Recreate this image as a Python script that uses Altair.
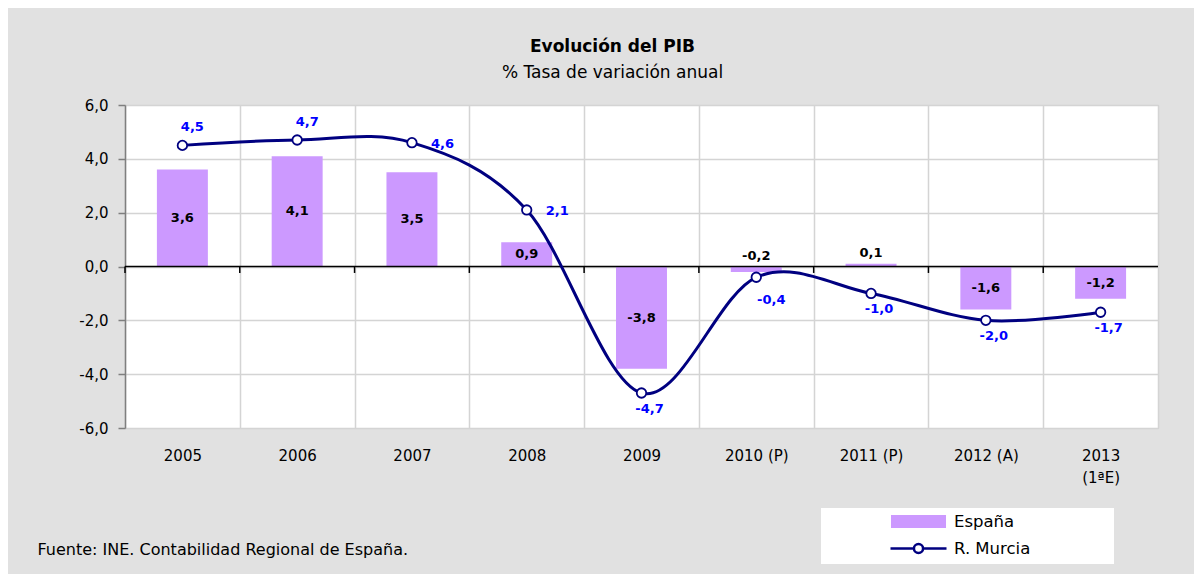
import altair as alt
import pandas as pd

# ---- data ----
categories = ["2005", "2006", "2007", "2008", "2009", "2010 (P)", "2011 (P)", "2012  (A)", "2013\n(1ªE)"]
espana = [3.6, 4.1, 3.5, 0.9, -3.8, -0.2, 0.1, -1.6, -1.2]
murcia = [4.5, 4.7, 4.6, 2.1, -4.7, -0.4, -1.0, -2.0, -1.7]
series_names = ["España", "R. Murcia"]
y_ticks = [-6, -4, -2, 0, 2, 4, 6]
zero_line = [0]

title_text = "Evolución del PIB"
subtitle_text = "% Tasa de variación anual"
source_text = "Fuente: INE. Contabilidad Regional de España."

# label placement groups for the R. Murcia values
murcia_above = ["2005", "2006"]
murcia_right = ["2007", "2008"]
murcia_below_right = ["2010 (P)"]
murcia_below = ["2009", "2011 (P)", "2012  (A)", "2013\n(1ªE)"]

df = pd.DataFrame({"cat": categories, "espana": espana, "murcia": murcia})

FONT = "DejaVu Sans"
LILAC = "#cc99ff"
NAVY = "#000080"
BLUE = "#0000ff"
GRID = "#d4d4d4"


def comma(field):
    return f"(datum.{field} < 0 ? '-' : '') + replace(format(abs(datum.{field}), '.1f'), '.', ',')"


y_scale = alt.Scale(domain=[-6, 6], nice=False, zero=False)
x_scale = alt.Scale(paddingInner=0, paddingOuter=0)

x_axis = alt.Axis(
    title=source_text, titleX=-88, titleY=121, titleAlign="left", titleAnchor="start",
    titleBaseline="middle", titleFont=FONT, titleFontSize=16, titleFontWeight="normal",
    titleColor="black",
    labelAngle=0, labelFont=FONT, labelFontSize=15, labelColor="black", labelPadding=20,
    labelLineHeight=22, labelExpr="split(datum.label, '\\n')",
    ticks=False, domain=False, grid=True, gridColor=GRID, gridWidth=1.5, tickBand="extent",
)
y_axis = alt.Axis(
    values=y_ticks, labelExpr=comma("value"), title=None,
    grid=True, gridColor=GRID, gridWidth=1.5,
    domainColor="#7f7f7f", domainWidth=1.5, tickColor="#7f7f7f", tickSize=7, tickWidth=1.5,
    labelFont=FONT, labelFontSize=15, labelColor="black", labelPadding=10,
)

# legend symbols (unit coordinates, scaled by the symbol size); the trailing move-to
# widens the white legend box to the right like the reference
rect_path = "M-3.93,-0.93H3.93V0.93H-3.93ZM26.5,0"
line_path = "M-4,0H-0.65M0.65,0H4M-0.65,0A0.65,0.65,0,1,0,0.65,0A0.65,0.65,0,1,0,-0.65,0ZM26.5,0"

legend = alt.Legend(
    title=None, orient="none", legendX=696, legendY=403, fillColor="white", padding=5,
    labelFont=FONT, labelFontSize=16.5, labelColor="black", rowPadding=4, labelLimit=400,
    symbolSize=196, symbolOffset=84, labelOffset=27, symbolStrokeWidth=2.5, symbolOpacity=1,
    symbolType=alt.ExprRef(expr=f"datum.value === 'España' ? '{rect_path}' : '{line_path}'"),
)

base = alt.Chart(df)
xenc = alt.X("cat:N", sort=categories, scale=x_scale)

bars = base.transform_calculate(series="'España'").mark_bar(
    width=alt.RelativeBandSize(0.444)
).encode(
    x=alt.X("cat:N", sort=categories, scale=x_scale, axis=x_axis, title=source_text),
    y=alt.Y("espana:Q", scale=y_scale, axis=y_axis),
    fill=alt.Fill("series:N", scale=alt.Scale(domain=series_names, range=[LILAC, "#ffffff"]), legend=legend),
    stroke=alt.Stroke("series:N", scale=alt.Scale(domain=series_names, range=["transparent", NAVY]), legend=legend),
)

zero = alt.Chart(pd.DataFrame({"z": zero_line})).mark_rule(color="black", strokeWidth=1.5).encode(
    y=alt.Y("z:Q", scale=y_scale)
)

zero_ticks = base.mark_rule(color="black", strokeWidth=1.5).encode(
    x=alt.X("cat:N", sort=categories, scale=x_scale, bandPosition=0),
    y=alt.datum(0),
    y2=alt.datum(-0.24),
)

line = base.mark_line(color=NAVY, strokeWidth=3, interpolate="cardinal", tension=0).encode(
    x=xenc, y=alt.Y("murcia:Q", scale=y_scale)
)
points = base.mark_point(shape="circle", filled=True, fill="white", stroke=NAVY, strokeWidth=1.8,
                         size=90, opacity=1).encode(x=xenc, y=alt.Y("murcia:Q", scale=y_scale))

esp_lab = base.transform_calculate(lab=comma("espana"), mid="datum.espana / 2",
                                   top="max(datum.espana, 0)")
esp_big = esp_lab.transform_filter("abs(datum.espana) >= 0.5").mark_text(
    font=FONT, fontSize=13, fontWeight="bold", color="black"
).encode(x=xenc, y=alt.Y("mid:Q", scale=y_scale), text="lab:N")
esp_small = esp_lab.transform_filter("abs(datum.espana) < 0.5").mark_text(
    font=FONT, fontSize=13, fontWeight="bold", color="black", baseline="bottom", dy=-4
).encode(x=xenc, y=alt.Y("top:Q", scale=y_scale), text="lab:N")

mur_lab = base.transform_calculate(lab=comma("murcia"))


def mlabels(cats, **kw):
    return mur_lab.transform_filter(alt.FieldOneOfPredicate(field="cat", oneOf=cats)).mark_text(
        font=FONT, fontSize=13, fontWeight="bold", color=BLUE, **kw
    ).encode(x=xenc, y=alt.Y("murcia:Q", scale=y_scale), text="lab:N")


m_above = mlabels(murcia_above, dx=10, dy=-18)
m_right = mlabels(murcia_right, align="left", dx=19, dy=1)
m_below_r = mlabels(murcia_below_right, dx=15, dy=23)
m_below = mlabels(murcia_below, dx=8, dy=16)

chart = alt.layer(
    bars, zero, zero_ticks, line, points, esp_big, esp_small, m_above, m_right, m_below_r, m_below
).properties(
    width=1033, height=323,
    autosize=alt.AutoSizeParams(type="none"),
    padding={"left": 117, "top": 97, "right": 36, "bottom": 146},
    background="#e1e1e1",
    title=alt.Title(
        text=title_text, subtitle=subtitle_text, font=FONT, fontSize=17, fontWeight="bold",
        color="black", subtitleFont=FONT, subtitleFontSize=17, subtitleColor="black",
        subtitlePadding=9, anchor="middle", dx=-29, offset=16,
    ),
).configure_view(fill="white", stroke="#c8c8c8")

chart.save("out.html", embed_options={"renderer": "svg", "actions": False})
